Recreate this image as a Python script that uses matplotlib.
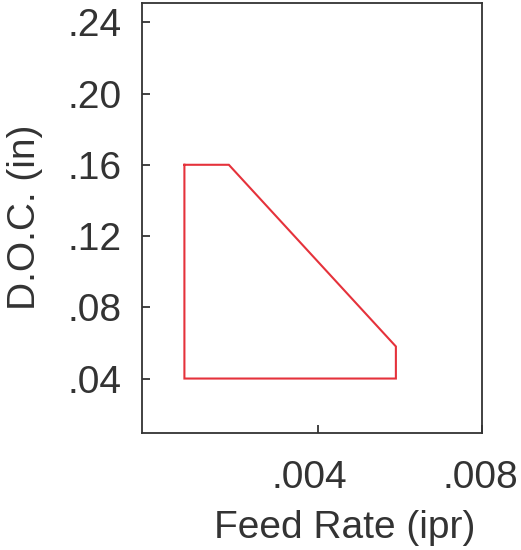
import matplotlib
matplotlib.use("Agg")
import matplotlib.pyplot as plt
from matplotlib.transforms import ScaledTranslation

feed_rate = [0.00076, 0.00184, 0.0059, 0.0059, 0.00076, 0.00076]
doc = [0.16, 0.16, 0.058, 0.04, 0.04, 0.16]
x_ticks = [0.004, 0.008]
x_tick_labels = [".004", ".008"]
y_ticks = [0.04, 0.08, 0.12, 0.16, 0.20, 0.24]
y_tick_labels = [".04", ".08", ".12", ".16", ".20", ".24"]

plt.rcParams['font.family'] = ['Liberation Sans', 'DejaVu Sans']
text_color = '#333333'

fig = plt.figure(figsize=(5.21, 5.50), dpi=100)
ax = fig.add_axes([0.2726, 0.2133, 0.6531, 0.7818])
ax.plot(feed_rate, doc, color='#e5323b', linewidth=1.5, solid_joinstyle='miter')
ax.set_xlim(-0.00027, 0.008)
ax.set_ylim(0.0096, 0.251)
ax.set_xticks(x_ticks)
ax.set_xticklabels(x_tick_labels)
ax.set_yticks(y_ticks)
ax.set_yticklabels(y_tick_labels)
ax.tick_params(direction='in', length=6, width=1.3, colors='#333333',
               labelsize=28, labelcolor=text_color)
ax.tick_params(axis='y', pad=15)
ax.tick_params(axis='x', pad=20)
for lbl, dx in zip(ax.get_xticklabels(), [-8, -2]):
    lbl.set_transform(lbl.get_transform() + ScaledTranslation(dx / 100, 0, fig.dpi_scale_trans))
for s in ax.spines.values():
    s.set_linewidth(1.3)
    s.set_color('#333333')
ax.set_xlabel('Feed Rate (ipr)', fontsize=28, color=text_color, labelpad=13)
ax.xaxis.set_label_coords(0.5965, -0.179, transform=ax.transAxes)
ax.xaxis.label.set_va('top')
ax.set_ylabel('D.O.C. (in)', fontsize=28, color=text_color, labelpad=17)
fig.savefig('out.png', dpi=100)
